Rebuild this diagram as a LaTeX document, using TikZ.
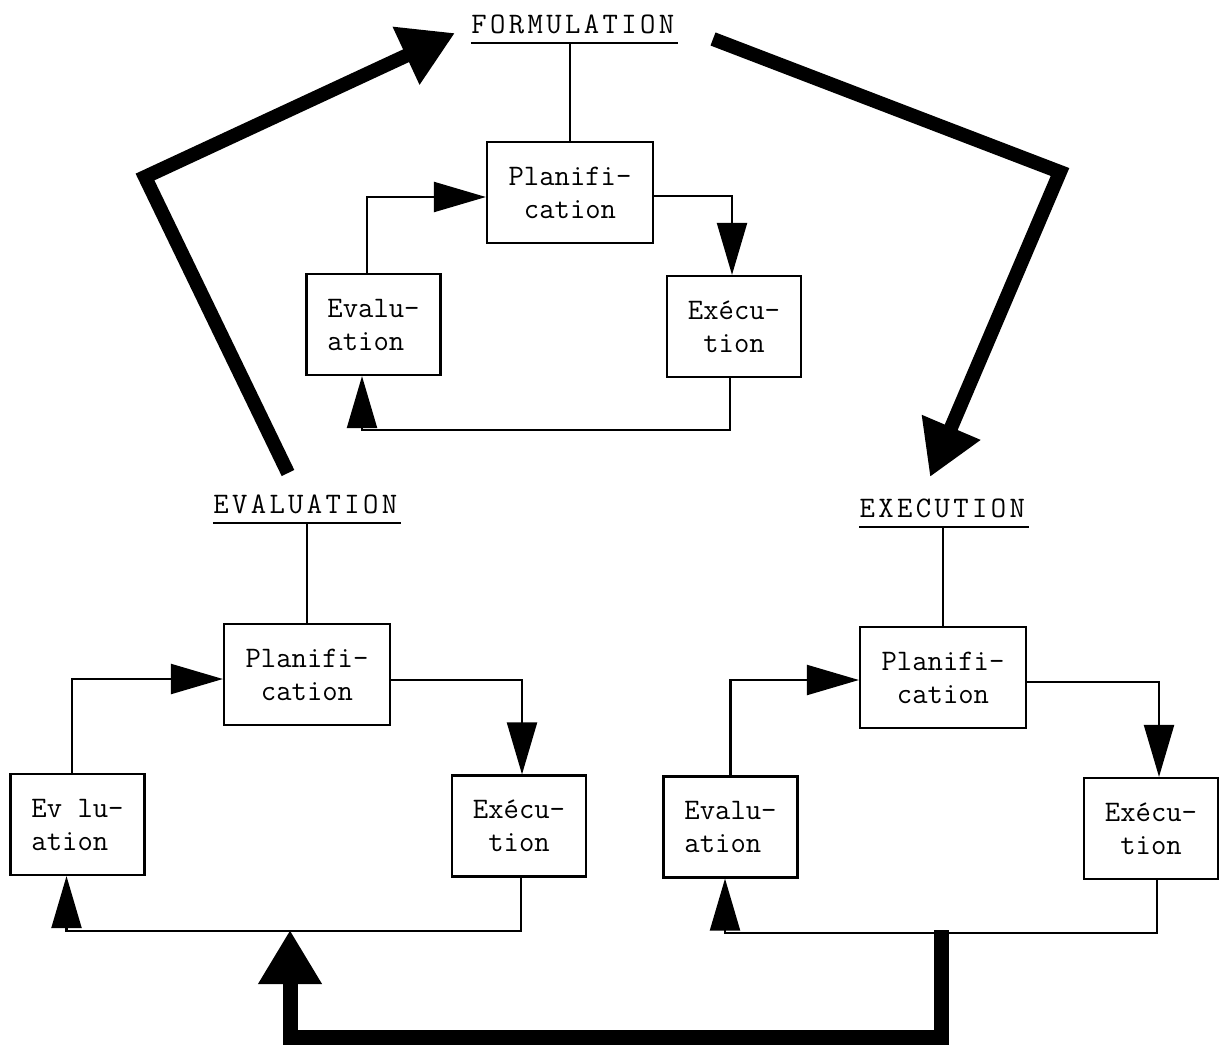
\documentclass[tikz,border=0pt]{standalone}
\usepackage{fontspec}
\usetikzlibrary{arrows.meta}
% typewriter faces: plain for box labels, spaced out for underlined headings
\newcommand{\boxface}{\ttfamily\fontsize{14.9pt}{16.5pt}\selectfont}
\newcommand{\headface}{\ttfamily\fontsize{14.9pt}{16pt}\selectfont}
% spread the letters of a word apart, typewriter style
\def\spread#1{\spreadstep#1\relax}
\def\spreadstep#1{\ifx#1\relax\else#1\kern1.7pt\expandafter\spreadstep\fi}

\begin{document}
\begin{tikzpicture}[x=0.5pt,y=-0.5pt,
  stage/.style={draw, line width=1.1pt, inner sep=0pt, align=center,
    minimum height=50.5pt, font=\boxface},
  planbox/.style={stage, minimum width=83pt},
  actbox/.style={stage, minimum width=67pt},
  evalbox/.style={actbox, align=left},
  heading/.style={inner xsep=0pt, inner ysep=4.5pt, text depth=0pt, anchor=south,
    font=\headface},
  conn/.style={line width=1.1pt},
  arr/.style={conn, -{Triangle[length=26pt,width=15pt]}},
  big/.style={line width=7pt, line join=miter, -{Triangle[length=27pt,width=30pt]}}
]
\useasboundingbox (0,0) rectangle (1219,1049);

% ---------- headings ----------
\node[heading] (F)  at (574.5,43) {\spread{FORMULATION}};
\node[heading] (EV) at (307,523)  {\spread{EVALUATION}};
\node[heading] (EX) at (944,527)  {\spread{EXECUTION}};
\foreach \h in {F,EV,EX}
  \draw[conn] (\h.south west) -- (\h.south east);

% ---------- formulation cycle ----------
\node[planbox] (P1) at (570,192.5) {Planifi-\\cation};
\node[evalbox] (E1) at (373.5,324.5) {Evalu-\\ation};
\node[actbox]  (X1) at (734,326.5) {Exécu-\\tion};
\draw[conn] (P1.north) -- (P1.north |- F.south);
\draw[arr] ([xshift=-3.25pt]E1.north) |- ([yshift=-2.25pt]P1.west);
\draw[arr] ([yshift=-1.75pt]P1.east) -| ([xshift=-1pt]X1.north);
\draw[arr] ([xshift=-2pt]X1.south) -- ++(0pt,-26pt) -| ([xshift=-5.75pt]E1.south);

% ---------- evaluation cycle ----------
\node[planbox] (P2) at (307,674.5) {Planifi-\\cation};
\node[evalbox] (E2) at (77.5,824.5) {Ev lu-\\ation};
\node[actbox]  (X2) at (519,826) {Exécu-\\tion};
\draw[conn] (P2.north) -- (P2.north |- EV.south);
\draw[arr] ([xshift=-2.75pt]E2.north) |- ([yshift=-2.25pt]P2.west);
\draw[arr] ([yshift=-2.75pt]P2.east) -| ([xshift=1.5pt]X2.north);
\draw[arr] ([xshift=1pt]X2.south) -- ++(0pt,-26.5pt) -| ([xshift=-5.5pt]E2.south);

% ---------- execution cycle ----------
\node[planbox] (P3) at (943,677.5) {Planifi-\\cation};
\node[evalbox] (E3) at (730.5,827) {Evalu-\\ation};
\node[actbox]  (X3) at (1151,828.5) {Exécu-\\tion};
\draw[conn] (P3.north) -- (P3.north |- EX.south);
\draw[arr] (E3.north) |- ([yshift=-1.25pt]P3.west);
\draw[arr] ([yshift=-2.25pt]P3.east) -| ([xshift=4pt]X3.north);
\draw[arr] ([xshift=3pt]X3.south) -- ++(0pt,-26.5pt) -| ([xshift=-2.75pt]E3.south);

% ---------- heavy arrows linking the three cycles ----------
\coordinate (evStart) at (288,473);
\coordinate (evBend)  at (145,177);
\coordinate (toForm)  at (455,33);
\draw[big] (evStart) -- (evBend) -- (toForm);

\coordinate (formStart) at (713,39);
\coordinate (formBend)  at (1060,172);
\coordinate (toExec)    at (930,477);
\draw[big] (formStart) -- (formBend) -- (toExec);

\coordinate (exStart) at (941,930);
\coordinate (exDown)  at (941,1037);
\coordinate (evDown)  at (290,1037);
\coordinate (toEval)  at (290,930);
\draw[big, line width=7.5pt] (exStart) -- (exDown) -- (evDown) -- (toEval);
\end{tikzpicture}
\end{document}
